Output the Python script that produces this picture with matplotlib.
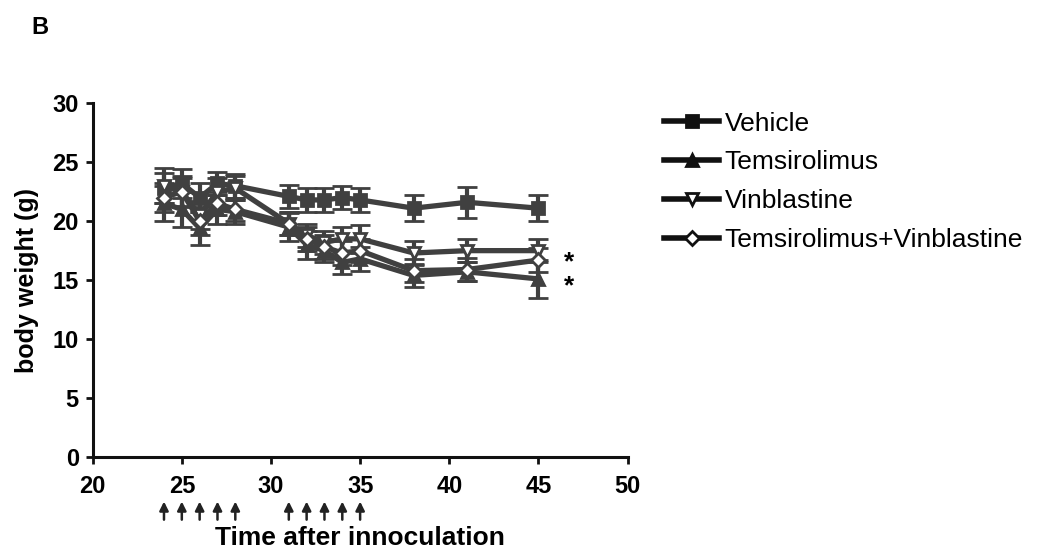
import matplotlib

matplotlib.use("Agg")

from matplotlib import pyplot as plt  # noqa: E402
from matplotlib.lines import Line2D  # noqa: E402

days = [24, 25, 26, 27, 28, 31, 32, 33, 34, 35, 38, 41, 45]
vehicle = [22.8, 23.2, 22.0, 23.2, 23.0, 22.1, 21.8, 21.8, 22.0, 21.8, 21.1, 21.6, 21.1]
vehicle_err = [1.3, 1.2, 1.2, 1.0, 1.0, 1.0, 1.0, 1.0, 1.0, 1.0, 1.1, 1.3, 1.1]
temsirolimus = [21.5, 21.0, 19.4, 21.0, 20.8, 19.5, 18.0, 17.5, 16.5, 16.8, 15.4, 15.7, 15.1]
temsirolimus_err = [1.5, 1.5, 1.4, 1.2, 1.0, 1.2, 1.2, 1.0, 1.0, 1.0, 1.0, 0.8, 1.6]
vinblastine = [23.0, 22.5, 20.5, 22.5, 22.8, 19.8, 18.8, 18.2, 18.5, 18.5, 17.3, 17.5, 17.5]
vinblastine_err = [1.5, 1.3, 1.2, 1.2, 1.0, 1.0, 1.0, 1.0, 1.0, 1.2, 1.0, 1.0, 1.0]
combination = [22.0, 22.5, 20.0, 21.5, 21.0, 19.8, 18.5, 17.8, 17.3, 17.5, 15.8, 15.9, 16.7]
combination_err = [1.2, 1.2, 1.2, 1.0, 1.0, 1.0, 1.0, 1.0, 1.0, 1.0, 1.0, 1.0, 1.0]

series_labels = ["Vehicle", "Temsirolimus", "Vinblastine", "Temsirolimus+Vinblastine"]
dosing_days = [24, 25, 26, 27, 28, 31, 32, 33, 34, 35]
x_ticks = [20, 25, 30, 35, 40, 45, 50]
y_ticks = [0, 5, 10, 15, 20, 25, 30]

plt.rcParams["font.family"] = ["Liberation Sans", "DejaVu Sans"]

LINE = "#404040"
INK = "#111111"

figure = plt.figure(figsize=(10.53, 5.58), dpi=100)
axis = figure.add_axes([0.088, 0.181, 0.508, 0.634])

markers = [("s", LINE), ("^", LINE), ("v", "white"), ("D", "white")]
values = [vehicle, temsirolimus, vinblastine, combination]
errors = [vehicle_err, temsirolimus_err, vinblastine_err, combination_err]

for ys, err, (marker, face) in zip(values, errors, markers):
    axis.errorbar(
        days, ys, yerr=err, color=LINE, lw=3.8, elinewidth=3,
        capsize=7, capthick=3, marker=marker, markersize=9 if marker != "D" else 7,
        mfc=face, mec=LINE, mew=2,
    )

axis.set_xlim(20, 50)
axis.set_ylim(0, 30)
axis.set_xticks(x_ticks)
axis.set_yticks(y_ticks)
for side in ("top", "right"):
    axis.spines[side].set_visible(False)
for side in ("left", "bottom"):
    axis.spines[side].set_linewidth(2.2)
    axis.spines[side].set_color(INK)
axis.tick_params(direction="out", length=5, width=2, labelsize=17, color=INK)
axis.tick_params(axis="x", pad=8)
axis.tick_params(axis="y", pad=5)
for tick in axis.get_xticklabels() + axis.get_yticklabels():
    tick.set_fontweight("bold")

axis.set_ylabel("body weight (g)", fontsize=18, fontweight="bold")
axis.yaxis.set_label_coords(-0.1, 0.5)
axis.set_xlabel("Time after innoculation", fontsize=19, fontweight="bold")
axis.xaxis.set_label_coords(0.5, -0.195)

for day in dosing_days:
    axis.annotate(
        "", xy=(day, -0.118), xytext=(day, -0.185),
        xycoords=("data", "axes fraction"), textcoords=("data", "axes fraction"),
        arrowprops=dict(arrowstyle="-|>", color="#222222", lw=1.8, mutation_scale=13),
        annotation_clip=False,
    )

axis.text(46.7, 16.5, "*", fontsize=19, fontweight="bold", ha="center", va="center")
axis.text(46.7, 14.5, "*", fontsize=19, fontweight="bold", ha="center", va="center")

handles = [
    Line2D([], [], color=INK, lw=4, marker=marker, markersize=8 if marker != "D" else 7,
           mfc=INK if face != "white" else "white", mec=INK, mew=2)
    for marker, face in markers
]
figure.legend(
    handles, series_labels, loc="upper left", bbox_to_anchor=(0.6306, 0.80),
    frameon=False, fontsize=19, handlelength=2.1, handletextpad=0.2,
    labelspacing=0.56, borderpad=0, borderaxespad=0,
)

figure.text(0.03, 0.95, "B", fontsize=17, fontweight="bold", va="center")

figure.savefig("out.png", dpi=100)
plt.close(figure)
